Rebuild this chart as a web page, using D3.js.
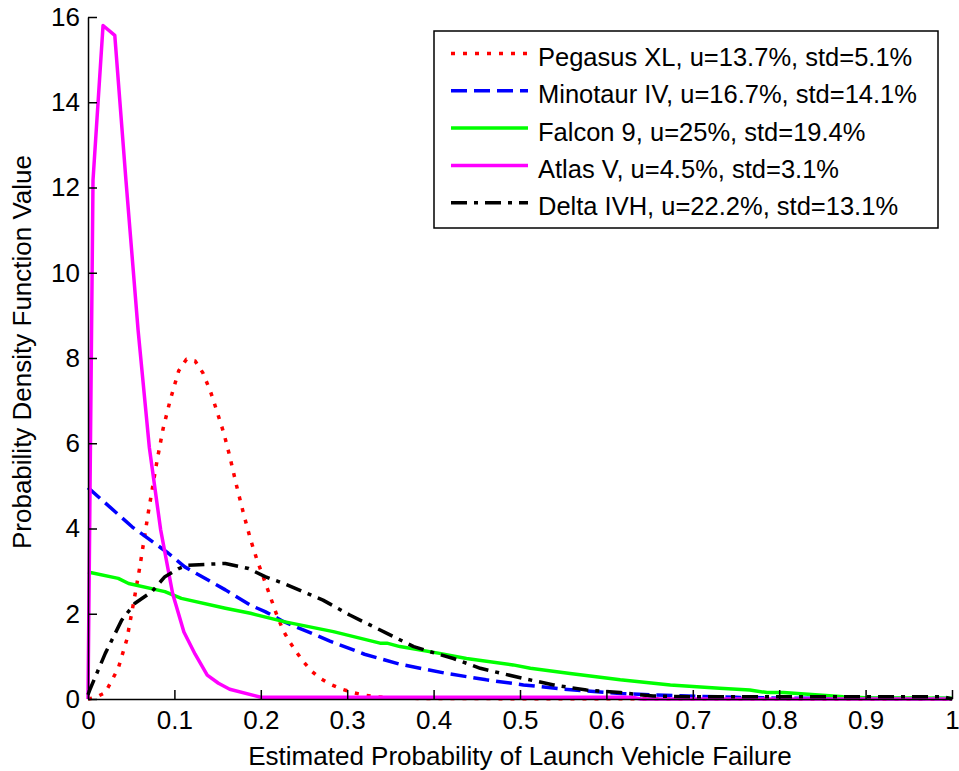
<!DOCTYPE html>
<html>
<head>
<meta charset="utf-8">
<script src="https://cdn.jsdelivr.net/npm/d3@7"></script>
<style>
  body { margin: 0; background: #fff; }
  svg text { font-family: "Liberation Sans", Arial, sans-serif; fill: #000; }
</style>
</head>
<body>
<div id="chart"></div>
<script>

// values
var pegasusX = [0, 0.008, 0.02, 0.035, 0.045, 0.054, 0.06, 0.065, 0.07, 0.075, 0.08, 0.087, 0.095, 0.105, 0.114, 0.124, 0.133, 0.142, 0.15, 0.157, 0.164, 0.172, 0.18, 0.188, 0.195, 0.203, 0.211, 0.218, 0.226, 0.234, 0.242, 0.25, 0.259, 0.269, 0.28, 0.294, 0.307, 0.32, 0.334, 0.36, 0.4, 1];
var pegasusY = [0, 0.03, 0.15, 0.72, 1.4, 2.4, 3.1, 3.75, 4.4, 5.0, 5.6, 6.35, 7.0, 7.7, 7.97, 7.93, 7.65, 7.2, 6.7, 6.25, 5.7, 5.0, 4.35, 3.75, 3.3, 2.85, 2.4, 2.0, 1.6, 1.32, 1.08, 0.86, 0.65, 0.48, 0.35, 0.23, 0.15, 0.09, 0.05, 0.02, 0.01, 0];

var minotaurX = [0, 0.051, 0.093, 0.112, 0.159, 0.188, 0.205, 0.226, 0.28, 0.32, 0.36, 0.415, 0.461, 0.504, 0.523, 0.55, 0.616, 0.65, 0.693, 0.75, 0.8, 1];
var minotaurY = [4.96, 4.04, 3.42, 3.1, 2.56, 2.2, 2.05, 1.82, 1.36, 1.05, 0.82, 0.6, 0.45, 0.33, 0.29, 0.23, 0.13, 0.1, 0.07, 0.04, 0.02, 0.01];

var falconX = [0, 0.035, 0.047, 0.089, 0.108, 0.159, 0.188, 0.228, 0.284, 0.338, 0.346, 0.361, 0.407, 0.438, 0.492, 0.512, 0.558, 0.616, 0.674, 0.731, 0.766, 0.786, 0.805, 0.874, 0.9, 1];
var falconY = [2.98, 2.83, 2.71, 2.52, 2.36, 2.13, 2.01, 1.81, 1.58, 1.31, 1.31, 1.23, 1.07, 0.95, 0.8, 0.72, 0.6, 0.45, 0.33, 0.25, 0.21, 0.15, 0.15, 0.05, 0.03, 0.02];

var atlasX = [0, 0.0058, 0.0174, 0.031, 0.044, 0.058, 0.071, 0.084, 0.098, 0.111, 0.124, 0.138, 0.151, 0.164, 0.2, 0.63, 0.64, 1];
var atlasY = [0, 12.17, 15.8, 15.57, 12.15, 8.65, 5.9, 3.98, 2.47, 1.57, 1.05, 0.56, 0.37, 0.23, 0.04, 0.04, 0, 0];

var deltaX = [0, 0.002, 0.02, 0.039, 0.054, 0.074, 0.089, 0.105, 0.116, 0.159, 0.186, 0.205, 0.228, 0.272, 0.303, 0.323, 0.346, 0.377, 0.396, 0.423, 0.454, 0.504, 0.539, 0.577, 0.616, 0.654, 0.7, 0.99, 1];
var deltaY = [0.1, 0.21, 1.07, 1.85, 2.24, 2.52, 2.87, 3.06, 3.14, 3.18, 3.06, 2.87, 2.7, 2.32, 1.97, 1.77, 1.54, 1.23, 1.11, 0.95, 0.72, 0.48, 0.33, 0.21, 0.15, 0.07, 0.05, 0.05, 0];

var seriesNames = ["Pegasus XL, u=13.7%, std=5.1%", "Minotaur IV, u=16.7%, std=14.1%", "Falcon 9, u=25%, std=19.4%", "Atlas V, u=4.5%, std=3.1%", "Delta IVH, u=22.2%, std=13.1%"];
var xTicks = [0, 0.1, 0.2, 0.3, 0.4, 0.5, 0.6, 0.7, 0.8, 0.9, 1];
var yTicks = [0, 2, 4, 6, 8, 10, 12, 14, 16];

var series = [
  { name: seriesNames[0], xs: pegasusX, ys: pegasusY, color: "#ff0000", dash: "4,8" },
  { name: seriesNames[1], xs: minotaurX, ys: minotaurY, color: "#0000ff", dash: "16,7" },
  { name: seriesNames[2], xs: falconX, ys: falconY, color: "#00ff00", dash: null },
  { name: seriesNames[3], xs: atlasX, ys: atlasY, color: "#ff00ff", dash: null },
  { name: seriesNames[4], xs: deltaX, ys: deltaY, color: "#000000", dash: "16,7,4,7" }
];

var margin = {top: 17, right: 7, bottom: 72, left: 88},
    width = 959 - margin.left - margin.right,
    height = 771 - margin.top - margin.bottom;

var svg = d3.select('#chart').append('svg')
    .attr('width', 959)
    .attr('height', 771);

var g = svg.append('g')
    .attr('transform', 'translate(' + margin.left + ',' + margin.top + ')');

var x = d3.scaleLinear().domain([0, 1]).range([0, width]);
var y = d3.scaleLinear().domain([0, 16]).range([height, 0]);

var valueline = d3.line()
    .x(function(d){ return x(d[0]); })
    .y(function(d){ return y(d[1]); });

// curves
series.forEach(function(s){
  var pts = s.xs.map(function(v, i){ return [v, s.ys[i]]; });
  g.append('path')
    .datum(pts)
    .attr('d', valueline)
    .attr('fill', 'none')
    .attr('stroke', s.color)
    .attr('stroke-width', 3.5)
    .attr('stroke-linejoin', 'round')
    .attr('stroke-dasharray', s.dash);
});

// axes, ticks pointing inward like matlab
var xAxis = g.append('g')
    .attr('transform', 'translate(0,' + height + ')')
    .call(d3.axisBottom(x).tickValues(xTicks).tickSizeInner(-9).tickSizeOuter(0).tickPadding(12)
      .tickFormat(function(d){ return d3.format('')(d); }));

var yAxis = g.append('g')
    .call(d3.axisLeft(y).tickValues(yTicks).tickSizeInner(-9).tickSizeOuter(0).tickPadding(8));

[xAxis, yAxis].forEach(function(a){
  a.select('.domain').attr('stroke', '#000').attr('stroke-width', 1.5);
  a.selectAll('.tick line').attr('stroke', '#000').attr('stroke-width', 1.5);
  a.selectAll('text').style('font-size', '26px').attr('fill', '#000');
});

// axis titles
svg.append('text')
    .attr('x', margin.left + width / 2)
    .attr('y', 765)
    .attr('text-anchor', 'middle')
    .style('font-size', '26px')
    .text('Estimated Probability of Launch Vehicle Failure');

svg.append('text')
    .attr('transform', 'translate(31,352) rotate(-90)')
    .attr('text-anchor', 'middle')
    .style('font-size', '26px')
    .text('Probability Density Function Value');

// legend
var legend = svg.append('g');
legend.append('rect')
    .attr('x', 434).attr('y', 31)
    .attr('width', 504).attr('height', 197)
    .attr('fill', '#fff')
    .attr('stroke', '#000')
    .attr('stroke-width', 1.5);

series.forEach(function(s, i){
  var ly = 53.5 + i * 37.3;
  legend.append('line')
    .attr('x1', 451).attr('x2', 528)
    .attr('y1', ly).attr('y2', ly)
    .attr('stroke', s.color)
    .attr('stroke-width', 3.5)
    .attr('stroke-dasharray', s.dash);
  legend.append('text')
    .attr('x', 538)
    .attr('y', ly + 12.5)
    .style('font-size', '25.5px')
    .text(s.name);
});

</script>
</body>
</html>
